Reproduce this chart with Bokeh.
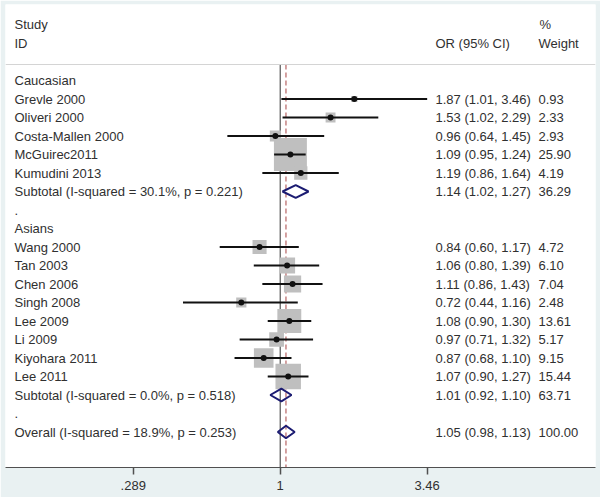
import numpy as np
from bokeh.plotting import figure
from bokeh.models import Range1d, FixedTicker, Span, ColumnDataSource
from bokeh.core.properties import value
from bokeh.embed import file_html
from bokeh.resources import INLINE

# ---------------- data ----------------
cau_study = ["Grevle 2000", "Oliveri 2000", "Costa-Mallen 2000", "McGuirec2011", "Kumudini  2013"]
cau_or = [1.87, 1.53, 0.96, 1.09, 1.19]
cau_lo = [1.01, 1.02, 0.64, 0.95, 0.86]
cau_hi = [3.46, 2.29, 1.45, 1.24, 1.64]
cau_wt = [0.93, 2.33, 2.93, 25.90, 4.19]
cau_sub = [1.14, 1.02, 1.27, 36.29]
cau_het = "Subtotal  (I-squared = 30.1%, p = 0.221)"

asn_study = ["Wang 2000", "Tan 2003", "Chen 2006", "Singh 2008", "Lee 2009",
             "Li 2009", "Kiyohara 2011", "Lee 2011"]
asn_or = [0.84, 1.06, 1.11, 0.72, 1.08, 0.97, 0.87, 1.07]
asn_lo = [0.60, 0.80, 0.86, 0.44, 0.90, 0.71, 0.68, 0.90]
asn_hi = [1.17, 1.39, 1.43, 1.16, 1.30, 1.32, 1.10, 1.27]
asn_wt = [4.72, 6.10, 7.04, 2.48, 13.61, 5.17, 9.15, 15.44]
asn_sub = [1.01, 0.92, 1.10, 63.71]
asn_het = "Subtotal  (I-squared = 0.0%, p = 0.518)"

overall = [1.05, 0.98, 1.13, 100.00]
overall_het = "Overall  (I-squared = 18.9%, p = 0.253)"

groups = ["Caucasian", "Asians"]
tick_vals = [0.289, 1, 3.46]
tick_labels = [".289", "1", "3.46"]

# ---------------- layout helpers ----------------
FIG_W, FIG_H = 600, 497
FR_L, FR_R, FR_T, FR_B = 5, 595, 4, 467        # frame edges in page px
PX_ONE, PX_PER_LN = 279.7, 118.4               # page px of OR=1, px per ln unit
ROW0, ROW_H = 80.0, 18.5                       # page y of first row, row pitch


def xd(px):
    return float(np.exp((px - PX_ONE) / PX_PER_LN))


def yd(py):
    return (py - ROW0) / ROW_H


TEXT_C = "#303030"
FONT = value("Liberation Sans")
FS = "13px"

# ---------------- build rows ----------------
labels, label_y = [], []
st_y, st_or, st_lo, st_hi, st_w = [], [], [], [], []
dm_y, dm = [], []
or_txt, or_y, wt_txt = [], [], []

row = 0
for g, names, ors, los, his, ws, sub, het in [
        (groups[0], cau_study, cau_or, cau_lo, cau_hi, cau_wt, cau_sub, cau_het),
        (groups[1], asn_study, asn_or, asn_lo, asn_hi, asn_wt, asn_sub, asn_het)]:
    labels.append(g); label_y.append(row); row += 1
    for n, o, l, h, w in zip(names, ors, los, his, ws):
        labels.append(n); label_y.append(row)
        st_y.append(row); st_or.append(o); st_lo.append(l); st_hi.append(h); st_w.append(w)
        or_txt.append(f"{o:.2f} ({l:.2f}, {h:.2f})"); wt_txt.append(f"{w:.2f}"); or_y.append(row)
        row += 1
    labels.append(het); label_y.append(row)
    dm_y.append(row); dm.append(sub)
    or_txt.append(f"{sub[0]:.2f} ({sub[1]:.2f}, {sub[2]:.2f})"); wt_txt.append(f"{sub[3]:.2f}"); or_y.append(row)
    row += 1
    labels.append("."); label_y.append(row); row += 1
labels.append(overall_het); label_y.append(row)
dm_y.append(row); dm.append(overall)
or_txt.append(f"{overall[0]:.2f} ({overall[1]:.2f}, {overall[2]:.2f})")
wt_txt.append(f"{overall[3]:.2f}"); or_y.append(row)

# ---------------- figure ----------------
p = figure(width=FIG_W, height=FIG_H, x_axis_type="log",
           x_range=Range1d(xd(FR_L), xd(FR_R)),
           y_range=Range1d(yd(FR_B), yd(FR_T)),
           output_backend="svg", toolbar_location=None, y_axis_location=None,
           min_border=0, min_border_left=FR_L, min_border_right=FIG_W - FR_R,
           min_border_top=FR_T, min_border_bottom=FIG_H - FR_B,
           background_fill_color="white", border_fill_color="#e9f1f2",
           outline_line_color=None)
p.grid.visible = False

ax = p.xaxis[0]
ax.ticker = FixedTicker(ticks=tick_vals, minor_ticks=[])
ax.major_label_overrides = {v: t for v, t in zip(tick_vals, tick_labels)}
ax.axis_line_color = "#505050"
ax.major_tick_line_color = "#505050"
ax.major_tick_line_width = 1.5
ax.major_tick_out = 7
ax.major_tick_in = 0
ax.minor_tick_line_color = None
ax.major_label_standoff = 6
ax.major_label_text_font = "Liberation Sans"
ax.major_label_text_font_size = FS
ax.major_label_text_color = TEXT_C

sep_y = yd(64)
p.add_layout(Span(location=sep_y, dimension="width", line_color="#d4d4d4", line_width=1))

# null line and overall dashed line
p.segment(x0=[1], y0=[sep_y], x1=[1], y1=[yd(FR_B)], line_color="#333333", line_width=1)
p.segment(x0=[overall[0]], y0=[sep_y], x1=[overall[0]], y1=[yd(FR_B)],
          line_color="#a84444", line_width=1, line_dash="5 3")

src = ColumnDataSource(dict(y=st_y, o=st_or, lo=st_lo, hi=st_hi,
                            size=[6.48 * np.sqrt(w) for w in st_w]))
p.scatter(x="o", y="y", size="size", marker="square", source=src,
          fill_color="#bfbfbf", line_color=None)
p.segment(x0="lo", y0="y", x1="hi", y1="y", source=src, line_color="#111111", line_width=2)
p.scatter(x="o", y="y", size=6, marker="circle", source=src,
          fill_color="#111111", line_color=None)

H = 0.34
xs = [[d[1], d[0], d[2], d[0]] for d in dm]
ys = [[y, y - H, y, y + H] for y in dm_y]
p.patches(xs=xs, ys=ys, fill_alpha=0, line_color="#1c1c72", line_width=2)

# texts
p.text(x=[xd(14)] * len(labels), y=label_y, text=labels, text_font=FONT,
       text_font_size=FS, text_color=TEXT_C, text_baseline="middle", text_align="left")
p.text(x=[xd(435)] * len(or_txt), y=or_y, text=or_txt, text_font=FONT,
       text_font_size=FS, text_color=TEXT_C, text_baseline="middle", text_align="left")
p.text(x=[xd(538)] * len(wt_txt), y=or_y, text=wt_txt, text_font=FONT,
       text_font_size=FS, text_color=TEXT_C, text_baseline="middle", text_align="left")

hdr_x = [xd(14), xd(14), xd(435), xd(539), xd(538)]
hdr_y = [yd(24), yd(43), yd(43), yd(24), yd(43)]
hdr_t = ["Study", "ID", "OR (95% CI)", "%", "Weight"]
p.text(x=hdr_x, y=hdr_y, text=hdr_t, text_font=FONT, text_font_size=FS,
       text_color=TEXT_C, text_baseline="middle", text_align="left")

open("out.html", "w").write(file_html(p, INLINE, title="Forest plot"))
